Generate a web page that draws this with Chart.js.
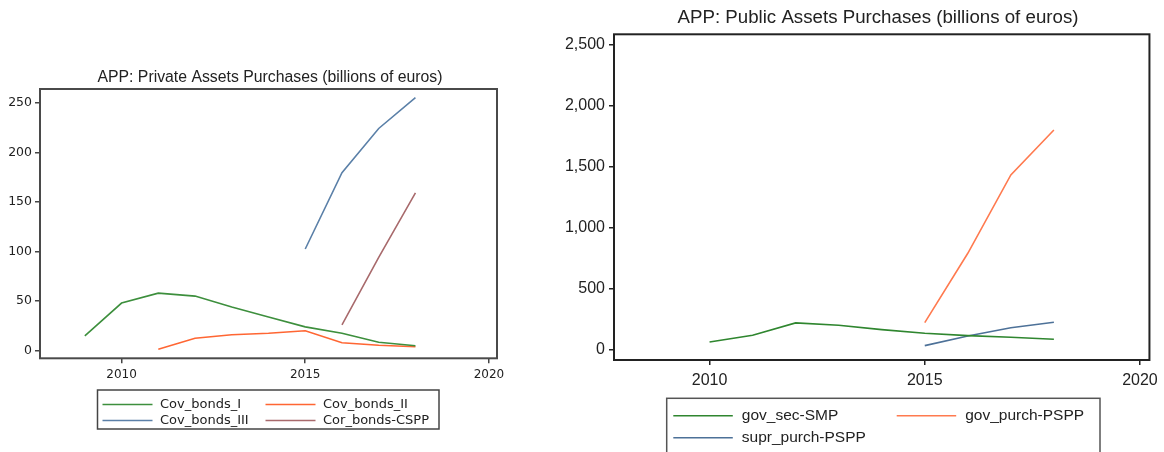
<!DOCTYPE html>
<html>
<head>
<meta charset="utf-8">
<script src="https://cdn.jsdelivr.net/npm/chart.js@4.4.1/dist/chart.umd.min.js"></script>
<style>
  html, body { margin: 0; padding: 0; background: #fff; }
  body { width: 1164px; height: 452px; position: relative; overflow: hidden; }
  .box { position: absolute; top: 0; height: 452px; }
  #privateBox { left: 0; width: 540px; }
  #publicBox { left: 540px; width: 624px; }
</style>
</head>
<body>
<div class="box" id="privateBox"><canvas id="privateChart"></canvas></div>
<div class="box" id="publicBox"><canvas id="publicChart"></canvas></div>
<script>
// ---- Private assets (billions of euros) ----
const privateYears = [2009, 2010, 2011, 2012, 2013, 2014, 2015, 2016, 2017, 2018];
const covBondsI    = [15, 48, 58, 55, 44, 34, 24, 17.5, 8.5, 5];
const covBondsII   = [null, null, 1.5, 12.5, 16, 17.5, 20, 8, 5.5, 4];
const covBondsIII  = [null, null, null, null, null, null, 102.5, 179.5, 224, 255];
const corBondsCSPP = [null, null, null, null, null, null, null, 26, 94, 159];
const privateYTicks = [0, 50, 100, 150, 200, 250];

// ---- Public assets (billions of euros) ----
const publicYears   = [2010, 2011, 2012, 2013, 2014, 2015, 2016, 2017, 2018];
const govSecSMP     = [60, 115, 216, 197, 161, 131, 112, 98, 82];
const govPurchPSPP  = [null, null, null, null, null, 218, 787, 1429, 1797];
const suprPurchPSPP = [null, null, null, null, null, 30, 109, 177, 221];
const publicYTicks  = [0, 500, 1000, 1500, 2000, 2500];

const xTicks = [2010, 2015, 2020];

function points(years, values) {
  return years.map((y, i) => ({ x: y, y: values[i] }));
}

// Draws the plot frame, the title and a boxed two-column legend
const framePlugin = {
  id: 'framePlugin',
  afterDraw(chart, args, o) {
    const ctx = chart.ctx;
    const a = chart.chartArea;
    ctx.save();
    ctx.strokeStyle = o.frameColor;
    ctx.lineWidth = o.frameWidth;
    ctx.strokeRect(a.left, a.top, a.right - a.left, a.bottom - a.top);

    ctx.fillStyle = o.titleColor;
    ctx.font = o.titleFont;
    ctx.textAlign = 'center';
    ctx.textBaseline = 'middle';
    ctx.fillText(o.title, o.titleX, o.titleY);

    const lg = o.legend;
    ctx.strokeStyle = lg.borderColor;
    ctx.lineWidth = lg.borderWidth;
    ctx.strokeRect(lg.x, lg.y, lg.w, lg.h);
    ctx.font = lg.font;
    ctx.textAlign = 'left';
    ctx.fillStyle = '#222';
    chart.data.datasets.forEach((ds, i) => {
      const col = i % 2, row = Math.floor(i / 2);
      const lx = lg.colX[col], ly = lg.rowY[row];
      ctx.strokeStyle = ds.borderColor;
      ctx.lineWidth = 1.6;
      ctx.beginPath();
      ctx.moveTo(lx, ly);
      ctx.lineTo(lx + lg.lineLen, ly);
      ctx.stroke();
      ctx.fillText(ds.label, lx + lg.lineLen + lg.gap, ly);
    });
    ctx.restore();
  }
};

function lineSet(label, years, values, color) {
  return {
    label, data: points(years, values), borderColor: color, backgroundColor: color,
    borderWidth: 1.6, pointRadius: 0, tension: 0, spanGaps: false
  };
}

function makeScales(cfg) {
  return {
    x: {
      type: 'linear', min: 2007.78, max: 2020.22,
      afterBuildTicks: s => { s.ticks = xTicks.map(v => ({ value: v })); },
      afterFit: s => { s.height = cfg.xHeight; },
      border: { display: false },
      grid: { drawOnChartArea: false, drawTicks: true, tickLength: 5, color: cfg.axisColor, lineWidth: cfg.tickWidth },
      ticks: { padding: cfg.xPad, color: '#222', font: cfg.xFont, maxRotation: 0, autoSkip: false,
               callback: v => String(v) }
    },
    y: {
      type: 'linear', min: cfg.yMin, max: cfg.yMax,
      afterBuildTicks: s => { s.ticks = cfg.yTicks.map(v => ({ value: v })); },
      afterFit: s => { s.width = cfg.yWidth; },
      border: { display: false },
      grid: { drawOnChartArea: false, drawTicks: true, tickLength: 5, color: cfg.axisColor, lineWidth: cfg.tickWidth },
      ticks: { padding: cfg.yPad, color: '#222', font: cfg.yFont, autoSkip: false,
               callback: v => v.toLocaleString('en-US') }
    }
  };
}

Chart.defaults.animation = false;
Chart.defaults.responsive = true;
Chart.defaults.maintainAspectRatio = false;

new Chart(document.getElementById('privateChart'), {
  type: 'line',
  data: {
    datasets: [
      lineSet('Cov_bonds_I', privateYears, covBondsI, '#3d8f3d'),
      lineSet('Cov_bonds_II', privateYears, covBondsII, '#ff6633'),
      lineSet('Cov_bonds_III', privateYears, covBondsIII, '#5b80a8'),
      lineSet('Cor_bonds-CSPP', privateYears, corBondsCSPP, '#a86a6c')
    ]
  },
  options: {
    layout: { padding: { left: 0, top: 89, right: 43, bottom: 64 } },
    scales: makeScales({
      yMin: -7.7, yMax: 263.8, yTicks: privateYTicks, yWidth: 40, xHeight: 29.7,
      axisColor: '#444', tickWidth: 1.5, xPad: 4, yPad: 3,
      xFont: { family: 'DejaVu Sans', size: 12 },
      yFont: { family: 'DejaVu Sans', size: 12.5 }
    }),
    plugins: {
      legend: { display: false },
      tooltip: { enabled: false },
      framePlugin: {
        frameColor: '#4a4a4a', frameWidth: 2,
        title: 'APP: Private Assets Purchases (billions of euros)',
        titleFont: '15.8px "Liberation Sans", Arial, sans-serif', titleColor: '#222',
        titleX: 270, titleY: 78,
        legend: {
          x: 97.5, y: 390, w: 341.5, h: 39, borderColor: '#444', borderWidth: 1.5,
          font: '13px "DejaVu Sans", sans-serif',
          colX: [102.5, 265.5], rowY: [404.5, 420.5], lineLen: 50, gap: 7.5
        }
      }
    }
  },
  plugins: [framePlugin]
});

new Chart(document.getElementById('publicChart'), {
  type: 'line',
  data: {
    datasets: [
      lineSet('gov_sec-SMP', publicYears, govSecSMP, '#2f862f'),
      lineSet('gov_purch-PSPP', publicYears, govPurchPSPP, '#ff7a4f'),
      lineSet('supr_purch-PSPP', publicYears, suprPurchPSPP, '#4d7198')
    ]
  },
  options: {
    layout: { padding: { left: 0, top: 34.3, right: 13, bottom: 62 } },
    scales: makeScales({
      yMin: -88, yMax: 2582, yTicks: publicYTicks, yWidth: 74, xHeight: 30,
      axisColor: '#222', tickWidth: 1.5, xPad: 6, yPad: 4,
      xFont: { family: 'Liberation Sans', size: 16 },
      yFont: { family: 'Liberation Sans', size: 16 }
    }),
    plugins: {
      legend: { display: false },
      tooltip: { enabled: false },
      framePlugin: {
        frameColor: '#222', frameWidth: 2,
        title: 'APP: Public Assets Purchases (billions of euros)',
        titleFont: '18.7px "Liberation Sans", Arial, sans-serif', titleColor: '#222',
        titleX: 338, titleY: 18,
        legend: {
          x: 126.7, y: 398.3, w: 433.3, h: 80, borderColor: '#555', borderWidth: 1.5,
          font: '15.5px "Liberation Sans", Arial, sans-serif',
          colX: [133.3, 356.7], rowY: [415.7, 437.7], lineLen: 59.5, gap: 9
        }
      }
    }
  },
  plugins: [framePlugin]
});
</script>
</body>
</html>
